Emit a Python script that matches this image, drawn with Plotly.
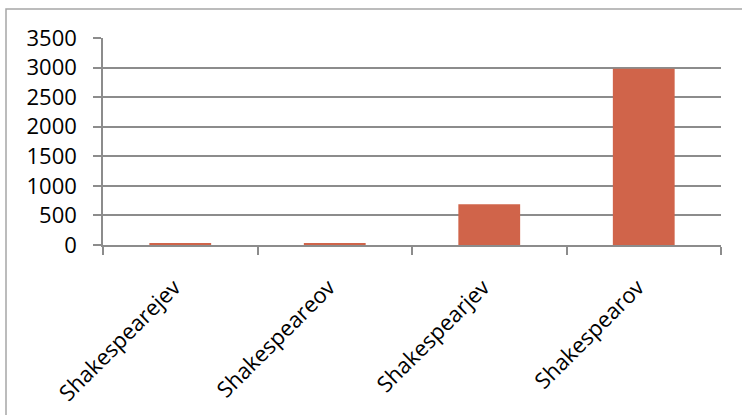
import plotly.graph_objects as go

categories = ["Shakespearejev", "Shakespeareov", "Shakespearjev", "Shakespearov"]
values = [25, 25, 690, 2980]
y_ticks = [0, 500, 1000, 1500, 2000, 2500, 3000, 3500]

W, H = 742, 415
ML, MR, MT, MB = 103, 21, 38, 170
pw = W - ML - MR
ph = H - MT - MB

grid = "#8c8c8c"
font = dict(family="'Open Sans', sans-serif", size=22, color="#000000")

fig = go.Figure(
    go.Bar(
        x=categories,
        y=values,
        marker=dict(color="#D0644A", line=dict(width=0)),
        hoverinfo="x+y",
    )
)

# outer chart frame (open on the right and bottom edges of the page)
x0 = (6 - ML) / pw
y1 = 1 + (MT - 9) / ph
fig.add_shape(type="rect", xref="paper", yref="paper",
              x0=x0, x1=x0 + 2.0, y0=-2.0, y1=y1,
              line=dict(color="#a6a6a6", width=1.5), layer="below")

fig.update_layout(
    width=W, height=H,
    margin=dict(l=ML, r=MR, t=MT, b=MB, autoexpand=False),
    paper_bgcolor="white", plot_bgcolor="white",
    bargap=0.6,
    showlegend=False,
    font=font,
)
fig.update_xaxes(
    type="category",
    range=[-0.5, 3.5],
    tickangle=-45,
    ticks="outside", ticklen=8, tickwidth=1.5, tickcolor=grid,
    tickson="boundaries",
    showline=True, linecolor=grid, linewidth=1.5,
    showgrid=False,
    ticklabelstandoff=19,
    ticklabelshift=-6,
    automargin=False,
    tickfont=font,
)
fig.update_yaxes(
    range=[0, 3500],
    tickvals=y_ticks,
    ticks="outside", ticklen=8, tickwidth=1.5, tickcolor=grid,
    showline=True, linecolor=grid, linewidth=1.5,
    showgrid=True, gridcolor=grid, gridwidth=1.5,
    zeroline=False,
    ticklabelstandoff=12,
    automargin=False,
    tickfont=font,
)

fig.write_html("out.html")
